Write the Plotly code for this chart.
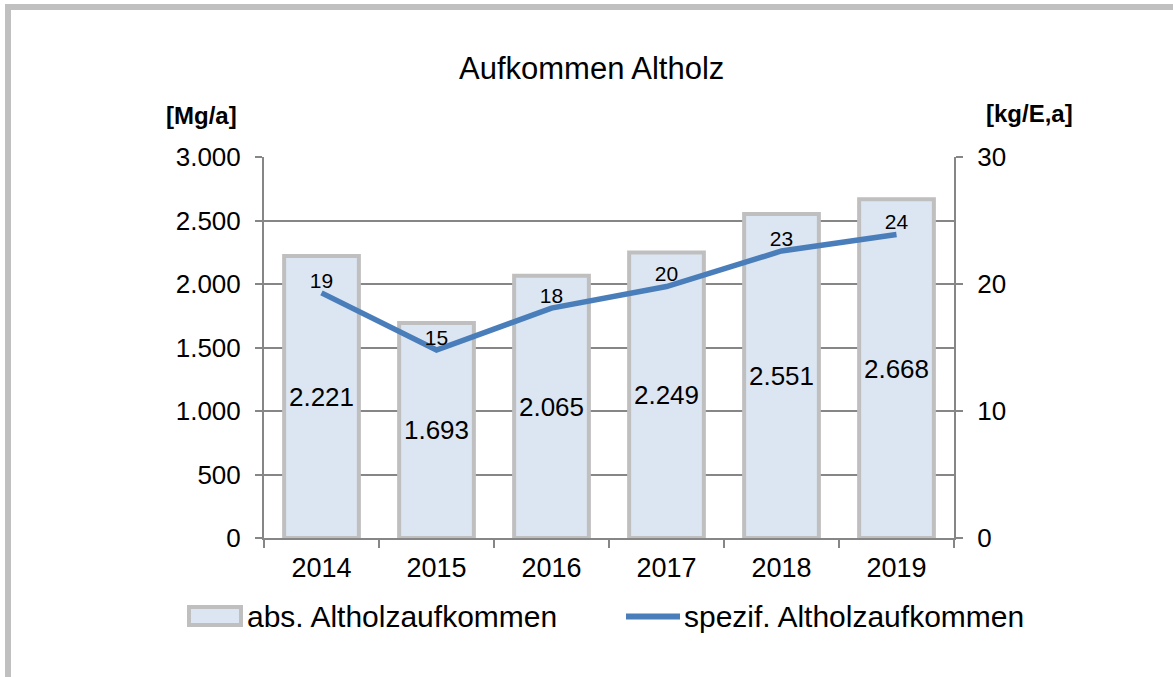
import plotly.graph_objects as go

years = ["2014", "2015", "2016", "2017", "2018", "2019"]
abs_values = [2221, 1693, 2065, 2249, 2551, 2668]
spez_values = [19.3, 14.8, 18.1, 19.8, 22.6, 23.9]
spez_labels = ["19", "15", "18", "20", "23", "24"]
left_ticks = [0, 500, 1000, 1500, 2000, 2500, 3000]
left_ticktext = ["0", "500", "1.000", "1.500", "2.000", "2.500", "3.000"]
right_ticks = [0, 10, 20, 30]
series_names = ["abs. Altholzaufkommen", "spezif. Altholzaufkommen"]

FONT = "Arial, Liberation Sans, sans-serif"
BAR_FILL = "#dce6f2"
BAR_EDGE = "#bfbfbf"
LINE_COL = "#4a7ebb"
AXIS_COL = "#868686"

W, H = 1173, 677
L, R, T, B = 264, 219, 157, 139
PW = W - L - R
PH = H - T - B

def px(x):
    return (x - L) / PW

def py(y):
    return (H - B - y) / PH

def fmt(v):
    return f"{v:,}".replace(",", ".")

fig = go.Figure()
fig.add_trace(go.Bar(
    x=years, y=abs_values, name=series_names[0],
    marker=dict(color=BAR_FILL, line=dict(color=BAR_EDGE, width=4)),
    width=0.65,
    text=[fmt(v) for v in abs_values], textposition="inside",
    insidetextanchor="middle",
    textfont=dict(family=FONT, size=26, color="#000000"),
    yaxis="y", cliponaxis=False, showlegend=False,
))
fig.add_trace(go.Scatter(
    x=years, y=spez_values, name=series_names[1],
    mode="lines+text", line=dict(color=LINE_COL, width=5.5),
    text=spez_labels, textposition="top center",
    textfont=dict(family=FONT, size=21, color="#000000"),
    yaxis="y2", cliponaxis=False, showlegend=False,
))

axis_common = dict(
    showline=True, linecolor=AXIS_COL, linewidth=2,
    ticks="outside", ticklen=7, tickcolor=AXIS_COL, tickwidth=1.5,
)

fig.update_layout(
    width=W, height=H,
    margin=dict(l=L, r=R, t=T, b=B, autoexpand=False),
    paper_bgcolor="white", plot_bgcolor="white",
    font=dict(family=FONT, color="#000000"),
    showlegend=False,
    xaxis=dict(
        type="category", showgrid=False, tickson="boundaries", ticklen=8,
        tickfont=dict(family=FONT, size=27), ticklabelstandoff=5,
        **{k: v for k, v in axis_common.items() if k != "ticklen"},
    ),
    yaxis=dict(
        range=[0, 3000], tickvals=left_ticks, ticktext=left_ticktext,
        showgrid=True, gridcolor=AXIS_COL, gridwidth=1.5, zeroline=False,
        tickfont=dict(family=FONT, size=26), ticklabelstandoff=9,
        **axis_common,
    ),
    yaxis2=dict(
        range=[0, 30], tickvals=right_ticks, overlaying="y", side="right",
        showgrid=False, zeroline=False,
        tickfont=dict(family=FONT, size=26), ticklabelstandoff=9,
        **axis_common,
    ),
    annotations=[
        dict(text="Aufkommen Altholz", x=px(591), y=py(68), xref="paper", yref="paper",
             showarrow=False, font=dict(family=FONT, size=31), xanchor="center", yanchor="middle"),
        dict(text="<b>[Mg/a]</b>", x=px(201), y=py(115), xref="paper", yref="paper",
             showarrow=False, font=dict(family=FONT, size=24), xanchor="center", yanchor="middle"),
        dict(text="<b>[kg/E,a]</b>", x=px(1029), y=py(114), xref="paper", yref="paper",
             showarrow=False, font=dict(family=FONT, size=24), xanchor="center", yanchor="middle"),
        dict(text=series_names[0], x=px(245), y=py(616), xref="paper", yref="paper",
             showarrow=False, font=dict(family=FONT, size=30), xanchor="left", yanchor="middle"),
        dict(text=series_names[1], x=px(682), y=py(616), xref="paper", yref="paper",
             showarrow=False, font=dict(family=FONT, size=30), xanchor="left", yanchor="middle"),
    ],
    shapes=[
        dict(type="line", xref="paper", yref="paper", x0=px(5), x1=px(1173), y0=py(7), y1=py(7),
             line=dict(color="#c0c0c0", width=6), layer="above"),
        dict(type="line", xref="paper", yref="paper", x0=px(8), x1=px(8), y0=py(4), y1=py(677),
             line=dict(color="#c0c0c0", width=6), layer="above"),
        dict(type="rect", xref="paper", yref="paper", x0=px(189), x1=px(241), y0=py(607), y1=py(625),
             fillcolor=BAR_FILL, line=dict(color=BAR_EDGE, width=4), layer="above"),
        dict(type="line", xref="paper", yref="paper", x0=px(626), x1=px(680), y0=py(616.5), y1=py(616.5),
             line=dict(color=LINE_COL, width=6), layer="above"),
    ],
)

fig.write_html("out.html", config={"displayModeBar": False},
               post_script="document.body.style.margin='0';document.body.style.padding='0';")
